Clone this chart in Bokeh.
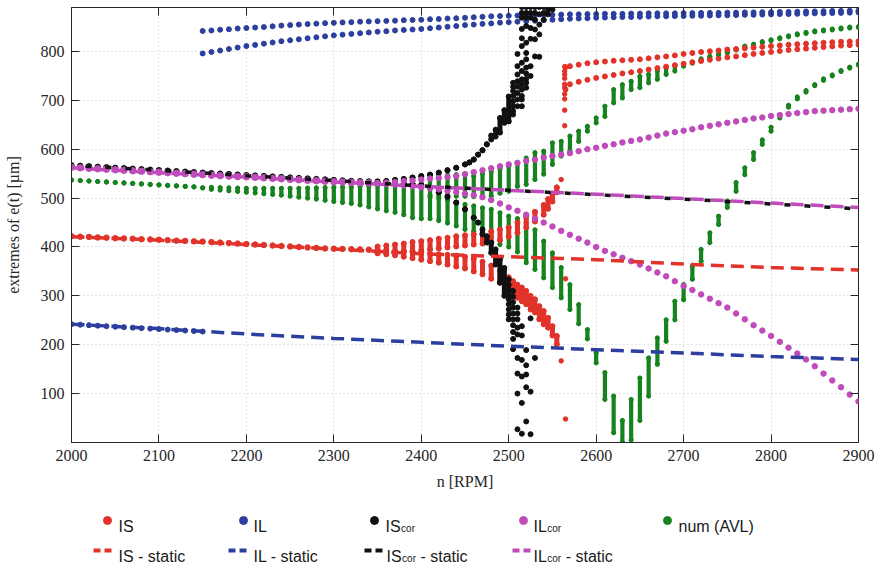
from bokeh.plotting import figure
from bokeh.models import Range1d, LinearAxis, FixedTicker, ColumnDataSource
from bokeh.layouts import column
from bokeh.embed import file_html
from bokeh.resources import INLINE
from bokeh.core.properties import value

# ---------------------------------------------------------------- data
def rpm(a, b):
    return list(range(a, b + 1, 10))

x_ticks = [2000, 2100, 2200, 2300, 2400, 2500, 2600, 2700, 2800, 2900]
y_ticks = [100, 200, 300, 400, 500, 600, 700, 800]

# static solutions (dashed lines)
static_n = [2000, 2100, 2200, 2300, 2400, 2500, 2600, 2700, 2800, 2900]
is_static = [421, 414, 405, 396, 386, 380, 374, 365, 358, 353]
il_static = [242, 233, 222, 213, 205, 197, 190, 183, 176, 170]
iscor_static = [567, 557, 546, 536, 525, 516, 507, 498, 488, 478]
ilcor_static = [562, 552, 543, 533, 524, 516, 508, 499, 490, 481]

# IS (red)
is_base_n = rpm(2000, 2340)
is_base = [422, 421, 420.5, 419.5, 419, 418, 417.5, 417, 416, 415.5,
           415, 414, 413, 412.5, 411.5, 411, 410, 409, 408, 407,
           406, 405, 404, 403, 402, 401, 400, 399, 398, 397,
           396.5, 396, 395.5, 395, 394.5]
is_up_n = [2350, 2360, 2370, 2380, 2390, 2400, 2410, 2420, 2430, 2440, 2450, 2460,
           2470, 2480, 2490, 2500, 2510, 2520, 2530, 2540, 2545, 2550, 2555]
is_up_lo = [388, 388, 389, 390, 391, 393, 395, 397, 399, 401, 403, 405,
            407, 410, 414, 421, 429, 440, 452, 466, 478, 493, 512]
is_up_hi = [401, 403, 405, 407, 410, 412, 414, 417, 419, 422, 424, 426,
            428, 432, 436, 440, 450, 462, 472, 486, 498, 508, 522]
is_lo_n = [2350, 2360, 2370, 2380, 2390, 2400, 2410, 2420, 2430, 2440, 2450, 2460, 2470, 2480,
           2490, 2500, 2505, 2510, 2515, 2520, 2525, 2530, 2535, 2540, 2545, 2550, 2555]
is_lo_lo = [387, 385, 383, 380, 377, 374, 371, 368, 364, 360, 356, 350, 344, 335,
            327, 312, 303, 296, 289, 283, 272, 266, 252, 242, 235, 219, 201]
is_lo_hi = [395, 394, 392, 391, 390, 389, 387, 385, 384, 382, 380, 376, 370, 362,
            351, 338, 330, 323, 317, 310, 300, 293, 279, 269, 255, 238, 218]
is_pts_n = [2560, 2560, 2565, 2565, 2564, 2564, 2564, 2564, 2564, 2564, 2564, 2564, 2564, 2564]
is_pts_v = [538, 167, 335, 48, 769, 760, 753, 745, 733, 726, 713, 703, 680, 648]
is_top_n = [2565] + rpm(2570, 2900)
is_top1 = [768, 770, 773, 776, 778, 779.5, 781, 782, 783, 784,
           786, 788, 790, 792, 795, 797, 799, 800.5, 802, 804,
           805, 806.5, 808, 809.5, 811, 812.5, 814, 815, 816, 817,
           818, 819, 820, 820.5, 821]
is_top2 = [722, 733, 738, 742, 746, 749, 752, 755, 757.5, 760,
           763, 766, 769, 772, 775, 778, 780.5, 783, 785.5, 788,
           790, 792.5, 795, 797, 799, 801, 803, 804.5, 806, 807.5,
           809, 810.5, 812, 813, 814]

# IL (blue)
il_low_n = rpm(2000, 2150)
il_low = [242, 241, 240, 239, 238, 237, 236, 235, 234, 233, 232, 231, 230, 229, 228, 227]
il_top_n = rpm(2150, 2900)
il_top1 = [842, 843, 844.5, 845.5, 847, 848, 849, 850, 851.5, 853,
           854, 855, 856, 857, 858, 858.6, 859.5, 860, 861, 861.5,
           862, 862.5, 863, 864, 864.5, 865, 866, 866.5, 867.5, 868,
           869, 870, 871, 872, 872.5, 873, 873.5, 874, 874.5, 875,
           875, 875.5, 876, 876, 876.5, 876.5, 877, 877, 877, 877.5,
           877.5, 878, 878, 878, 878, 878.5, 878.5, 879, 879, 879,
           879.5, 879.5, 880, 880, 880.5, 880.5, 881, 881, 881.5, 882,
           882, 882.5, 883, 883, 883.5, 884]
il_top2 = [796, 799, 802, 805, 808, 811, 813.5, 816, 818.5, 821,
           823, 825, 827, 829, 831, 833, 834.5, 836, 837.5, 839,
           840.5, 841.5, 843, 844, 845, 846, 847.5, 849, 850.5, 852,
           854, 855, 856.5, 857.5, 859, 860, 861, 862, 863, 864,
           865, 866, 867, 867.5, 868, 869, 869.5, 870, 870.5, 870.5,
           871, 871.5, 872, 872, 872.5, 872.5, 873, 873, 873.5, 874,
           874, 874.5, 875, 875, 875.5, 876, 876.5, 876.5, 877, 877.5,
           878, 878, 878.5, 879, 879.5, 880]

# IS_cor (black)
iscor_base_n = rpm(2000, 2340)
iscor_base = [567, 566, 565, 564, 563, 562, 561, 560, 559, 558,
              557, 556, 555, 554, 553, 552, 551, 550, 549, 548,
              547, 546, 545, 544, 543, 542, 541, 540, 539, 538,
              537, 536, 535, 534.5, 534]
iscor_up_n = [2350, 2360, 2370, 2380, 2390, 2400, 2410, 2420, 2430, 2440, 2450,
              2455, 2460, 2465, 2470, 2475, 2480, 2485, 2490, 2495, 2500]
iscor_up_lo = [534, 535, 537, 539, 542, 545, 548, 552, 557, 562, 569,
               573, 579, 589, 598, 610, 620, 626, 634, 654, 657]
iscor_up_hi = [534, 535, 537, 539, 542, 545, 548, 552, 557, 562, 569,
               573, 579, 589, 598, 610, 628, 640, 664, 680, 708]
iscor_up_scatter = {
    2505: [736, 728, 719, 709, 698, 688, 678, 671],
    2510: [795, 770, 753, 739, 728, 715, 702, 688],
    2515: [891, 879, 869, 846, 827, 811, 777, 760, 743, 733, 722, 709, 702, 688],
    2520: [891, 879, 869, 852, 818, 797, 784, 767, 755, 744, 736, 726],
    2525: [891, 879, 869, 848, 826, 770, 750],
    2530: [891, 879, 865, 845, 825, 790],
    2535: [891, 876, 855, 835, 789],
    2540: [891, 879, 865],
    2545: [886, 876],
    2550: [886],
}
iscor_lo_n = [2350, 2360, 2370, 2380, 2390, 2400, 2410, 2420, 2430, 2440, 2450, 2460,
              2465, 2470, 2475, 2480, 2485, 2490, 2495]
iscor_lo_lo = [531, 531, 530, 529.5, 529, 527, 521, 512, 503, 491, 477, 460,
               450, 426, 409, 388, 364, 327, 300]
iscor_lo_hi = [531, 531, 530, 529.5, 529, 527, 521, 512, 503, 491, 477, 460,
               450, 436, 422, 409, 395, 375, 357]
iscor_lo_scatter = {
    2500: [334, 323, 313, 303, 293, 283, 272, 262, 252],
    2505: [310, 298, 287, 276, 264, 252, 240, 226, 212, 191],
    2510: [276, 264, 252, 235, 221, 173, 141, 100, 27],
    2515: [238, 219, 169, 135, 81, 18],
    2520: [189, 158, 139, 113, 43],
    2525: [254, 104, 17],
    2530: [173],
}

# IL_cor (magenta)
ilcor_base_n = rpm(2000, 2340)
ilcor_base = [563, 562, 561, 560, 559, 558, 557, 556, 555, 554,
              553, 552, 551, 550, 549, 548, 547, 546, 545, 544,
              543.5, 542.5, 541.5, 540.5, 539.5, 538.5, 537.5, 536.5, 535.5, 534.5,
              533.5, 533, 532, 531.5, 531]
ilcor_br_n = rpm(2350, 2900)
ilcor_up = [531, 532, 533, 535, 536, 538, 540, 541, 543, 545,
            549, 553, 557, 561, 565, 569, 572, 576, 579, 583,
            586, 589, 592, 596, 600, 603, 607, 610, 614, 617,
            620, 624, 628, 632, 635, 638, 641, 645, 648, 651,
            654, 657, 660, 663, 665, 668, 670, 672, 674, 676,
            678, 679, 680, 681, 682, 683]
ilcor_lo = [530, 529, 528, 526, 524, 522, 520, 518, 515, 512,
            509, 506, 502, 496, 489, 481, 474, 466, 458, 450,
            442, 433, 425, 417, 409, 400, 392, 385, 378, 371,
            364, 356, 348, 340, 330, 320, 312, 303, 294, 285,
            276, 264, 252, 240, 229, 218, 206, 194, 182, 170,
            156, 141, 127, 113, 98, 84]

# num (AVL) (green) - ranges of the extremes at each speed
g_main_n = rpm(2000, 2400)
g_main_lo = [537, 536, 535, 534, 533, 532, 531, 530, 529, 528,
             527, 526, 525, 524, 523, 521, 518, 516.5, 515, 513.5,
             512, 510.5, 509, 507.5, 506, 504, 502, 500, 498, 495.5,
             493, 491, 489, 486, 482, 478, 474, 471, 466, 460,
             458]
g_main_hi = [537, 536, 535, 534, 533, 532, 531, 530, 529, 528,
             527, 526, 525, 524, 523, 521, 522, 521.5, 521, 520.5,
             520, 520, 520, 520, 520, 520, 520, 520.5, 521, 521.5,
             522, 522.5, 523, 524, 525, 526, 528, 530, 533, 536,
             540]
g_br_n = rpm(2410, 2900)
g_up_lo = [506, 505, 505, 504, 504, 503, 505, 504, 510, 514,
           524, 528, 538, 549, 569, 586, 596, 616, 637, 654,
           667, 695, 705, 722, 726, 736, 743, 753, 760, 770,
           776, 782, 788, 793, 797, 803, 809, 813, 818, 822,
           826, 830, 834, 837, 840, 842, 844, 846, 848, 849]
g_up_hi = [546, 546, 547, 548, 550, 545, 550, 555, 560, 565,
           573, 582, 593, 596, 613, 616, 627, 637, 647, 664,
           688, 722, 732, 739, 749, 753, 760, 767, 771, 774,
           778, 785, 790, 795, 799, 805, 811, 815, 820, 824,
           828, 832, 836, 839, 842, 844, 846, 848, 850, 851]
g_lo_lo = [458, 454, 449, 443, 436, 432, 427, 420, 405, 400,
           390, 368, 354, 337, 317, 296, 272, 243, 212, 163,
           88, 20, 0, 5, 45, 95, 160, 207, 251, 292,
           334, 371, 409, 446, 481, 514, 548, 579, 610, 637,
           664, 686, 703, 717, 730, 741, 750, 759, 766, 772]
g_lo_hi = [502, 500, 496, 490, 487, 484, 480, 477, 470, 463,
           458, 450, 435, 412, 388, 358, 323, 282, 231, 184,
           143, 95, 45, 88, 132, 173, 214, 251, 289, 323,
           361, 395, 429, 463, 494, 532, 562, 593, 619, 645,
           669, 690, 707, 720, 732, 744, 752, 761, 768, 774]

legend_row1 = ["IS", "IL", "IS", "IL", "num (AVL)"]
legend_row2 = ["IS - static", "IL - static", "IS", "IL"]

# ---------------------------------------------------------------- style
RED = "#e1332a"
BLUE = "#2c3e9e"
BLACK = "#111111"
MAG = "#bf4cba"
GREEN = "#17831e"
AX = "#262626"
SERIF = "Liberation Serif"
SANS = "Liberation Sans"

W = 877
BL, BR = 71, 19          # frame at x = 71 .. 858
MAIN_H = 492


def expand(d):
    ns = [n for n, vs in d.items() for _ in vs]
    vs = [v for vals in d.values() for v in vals]
    return ns, vs


p = figure(width=W, height=MAIN_H, x_range=Range1d(2000, 2900), y_range=Range1d(0, 890),
           output_backend="svg", toolbar_location=None,
           min_border_left=BL, min_border_right=BR, min_border_top=7, min_border_bottom=49,
           background_fill_color="white", border_fill_color="white")
p.outline_line_color = AX
p.outline_line_width = 1
p.outline_line_alpha = 1

p.xaxis.ticker = FixedTicker(ticks=x_ticks)
p.yaxis.ticker = FixedTicker(ticks=y_ticks)
for ax in (p.xaxis[0], p.yaxis[0]):
    ax.major_tick_in = 8
    ax.major_tick_out = 0
    ax.minor_tick_line_color = None
    ax.axis_line_color = AX
    ax.major_tick_line_color = AX
    ax.major_label_text_font = SERIF
    ax.major_label_text_font_size = "16px"
    ax.major_label_text_color = AX
    ax.major_label_standoff = 7
    ax.axis_label_text_font = SERIF
    ax.axis_label_text_font_size = "16px"
    ax.axis_label_text_font_style = "normal"
    ax.axis_label_text_color = AX
p.xaxis.axis_label = "n [RPM]"
p.xaxis.axis_label_standoff = 9
p.yaxis.axis_label = "extremes of e(t) [µm]"
p.yaxis.axis_label_standoff = 16

top_ax = LinearAxis(ticker=FixedTicker(ticks=x_ticks), major_label_text_font_size="1px",
                    major_label_text_color=None, major_label_standoff=0,
                    major_tick_in=8, major_tick_out=0,
                    minor_tick_line_color=None, axis_line_color=None, major_tick_line_color=AX)
right_ax = LinearAxis(ticker=FixedTicker(ticks=y_ticks), major_label_text_font_size="1px",
                      major_label_text_color=None, major_label_standoff=0,
                      major_tick_in=8, major_tick_out=0,
                      minor_tick_line_color=None, axis_line_color=None, major_tick_line_color=AX)
p.add_layout(top_ax, "above")
p.add_layout(right_ax, "right")

for g in (p.xgrid[0], p.ygrid[0]):
    g.grid_line_color = "#c8c8c8"
    g.grid_line_dash = "1 3"
    g.grid_line_width = 1


def band(n, lo, hi, color, w):
    src = ColumnDataSource(dict(n=n, lo=lo, hi=hi))
    p.segment(x0="n", y0="lo", x1="n", y1="hi", source=src, line_color=color,
              line_width=w, line_cap="round")
    p.scatter(x="n", y="lo", source=src, size=w, color=color)
    p.scatter(x="n", y="hi", source=src, size=w, color=color)


def dots(n, v, color, s):
    p.scatter(x=n, y=v, size=s, color=color)


# num (AVL)
band(g_main_n, g_main_lo, g_main_hi, GREEN, 4.2)
band(g_br_n, g_up_lo, g_up_hi, GREEN, 4.2)
band(g_br_n, g_lo_lo, g_lo_hi, GREEN, 4.2)

# IS
dots(is_base_n, is_base, RED, 5.5)
band(is_up_n, is_up_lo, is_up_hi, RED, 5)
band(is_lo_n, is_lo_lo, is_lo_hi, RED, 5)
dots(is_pts_n, is_pts_v, RED, 4.5)
dots(is_top_n, is_top1, RED, 5)
dots(is_top_n, is_top2, RED, 5)

# IL
dots(il_low_n, il_low, BLUE, 5)
dots(il_top_n, il_top1, BLUE, 5)
dots(il_top_n, il_top2, BLUE, 5)

# IS_cor
dots(iscor_base_n, iscor_base, BLACK, 5.5)
band(iscor_up_n, iscor_up_lo, iscor_up_hi, BLACK, 5)
band(iscor_lo_n, iscor_lo_lo, iscor_lo_hi, BLACK, 5)
n_sc, v_sc = expand(iscor_up_scatter)
dots(n_sc, v_sc, BLACK, 5)
n_sc, v_sc = expand(iscor_lo_scatter)
dots(n_sc, v_sc, BLACK, 5)

# IL_cor
dots(ilcor_base_n, ilcor_base, MAG, 6.5)
dots(ilcor_br_n, ilcor_up, MAG, 5.5)
dots(ilcor_br_n, ilcor_lo, MAG, 5.5)

# static lines
p.line(static_n, is_static, line_color=RED, line_width=3.5, line_dash="13 7")
p.line(static_n, il_static, line_color=BLUE, line_width=3.5, line_dash="13 7")
p.line(static_n, ilcor_static, line_color=MAG, line_width=3.5, line_dash="13 7")
p.line(static_n, iscor_static, line_color=BLACK, line_width=3.5, line_dash="6 14",
       line_dash_offset=6)

# ---------------------------------------------------------------- legend panel
# its frame is given the same left/right borders as the plot, so x and y are page pixels
LT = MAIN_H
LB = 565
lg = figure(width=W, height=LB - LT, x_range=Range1d(BL, W - BR), y_range=Range1d(LB, LT),
            output_backend="svg", toolbar_location=None, x_axis_type=None, y_axis_type=None,
            min_border_left=BL, min_border_right=BR, min_border_top=0,
            min_border_bottom=0, outline_line_color=None,
            background_fill_color="white", border_fill_color="white")
lg.grid.visible = False

row1_y = 520
row2_y = 550
marker_x = [107, 243, 374, 523, 667]
text1_x = [118, 253, 385, 533, 678]
lg.scatter(x=marker_x, y=[row1_y] * 5, size=8, color=[RED, BLUE, BLACK, MAG, GREEN])
dash_x0 = [93, 228, 364, 512]
dash_x1 = [112, 247, 383, 531]
lg.segment(x0=dash_x0, y0=[row2_y] * 4, x1=dash_x1, y1=[row2_y] * 4,
           line_color=[RED, BLUE, BLACK, MAG], line_width=4, line_dash="7 4")
text2_x = [118, 253, 386, 533]

base1 = row1_y + 5.8
base2 = row2_y + 5.8
TXT = "#1a1a1a"
lg.text(x=text1_x, y=[base1] * 5, text=legend_row1, text_font=value(SANS),
        text_font_size="16px", text_baseline="alphabetic", text_align="left", text_color=TXT)
lg.text(x=text2_x, y=[base2] * 4, text=legend_row2, text_font=value(SANS),
        text_font_size="16px", text_baseline="alphabetic", text_align="left", text_color=TXT)
# subscripts "cor"
w_IS = 15.1
w_IL = 13.3
sub_x = [385 + w_IS + 0.5, 533 + w_IL + 0.5, 386 + w_IS + 0.5, 533 + w_IL + 0.5]
sub_y = [base1 + 2.5, base1 + 2.5, base2 + 2.5, base2 + 2.5]
lg.text(x=sub_x, y=sub_y, text=["cor"] * 4, text_font=value(SANS),
        text_font_size="10px", text_baseline="alphabetic", text_align="left", text_color=TXT)
w_sub = 13.9
w_space = 4.5
rest_x = [386 + w_IS + 0.5 + w_sub + w_space, 533 + w_IL + 0.5 + w_sub + w_space]
lg.text(x=rest_x, y=[base2] * 2, text=["- static", "- static"], text_font=value(SANS),
        text_font_size="16px", text_baseline="alphabetic", text_align="left", text_color=TXT)

layout = column(p, lg, spacing=0)
open("out.html", "w").write(file_html(layout, INLINE))
